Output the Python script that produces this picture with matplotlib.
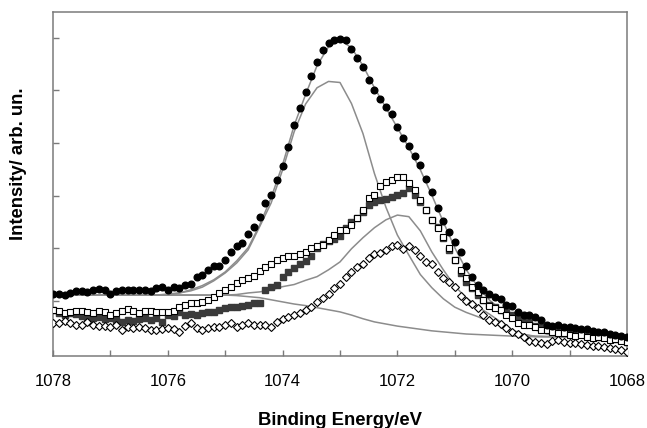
import numpy as np
import matplotlib
matplotlib.use("Agg")
import matplotlib.pyplot as plt
from matplotlib.ticker import MultipleLocator, FuncFormatter

plt.rcParams['font.family'] = ['Liberation Sans', 'DejaVu Sans']

# measured points, 0.1 eV steps from 1078.0 down to 1068.0
energy = np.round(np.arange(1078.0, 1067.95, -0.1), 1)

filled_circles = [
    1.13, 1.13, 1.11, 1.15, 1.19, 1.19, 1.17, 1.21, 1.23, 1.21,
    1.13, 1.19, 1.21, 1.21, 1.21, 1.21, 1.21, 1.19, 1.25, 1.27,
    1.21, 1.27, 1.25, 1.30, 1.32, 1.45, 1.49, 1.59, 1.66, 1.66,
    1.78, 1.93, 2.04, 2.10, 2.27, 2.41, 2.60, 2.86, 3.01, 3.30,
    3.56, 3.93, 4.35, 4.67, 4.97, 5.28, 5.54, 5.77, 5.90, 5.96,
    5.98, 5.96, 5.79, 5.62, 5.45, 5.20, 5.01, 4.84, 4.69, 4.55,
    4.31, 4.10, 3.94, 3.76, 3.58, 3.32, 3.06, 2.76, 2.52, 2.30,
    2.12, 1.92, 1.66, 1.46, 1.30, 1.21, 1.13, 1.07, 1.04, 0.93,
    0.91, 0.79, 0.74, 0.74, 0.70, 0.63, 0.55, 0.53, 0.54, 0.51,
    0.50, 0.49, 0.47, 0.46, 0.43, 0.40, 0.41, 0.37, 0.36, 0.33,
    0.32]

open_squares = [
    0.83, 0.80, 0.77, 0.78, 0.80, 0.80, 0.78, 0.77, 0.80, 0.78,
    0.73, 0.76, 0.80, 0.84, 0.80, 0.76, 0.81, 0.80, 0.78, 0.79,
    0.79, 0.81, 0.88, 0.92, 0.96, 0.96, 0.98, 1.02, 1.08, 1.15,
    1.21, 1.27, 1.34, 1.40, 1.44, 1.48, 1.57, 1.65, 1.70, 1.78,
    1.82, 1.86, 1.86, 1.89, 1.93, 2.01, 2.05, 2.06, 2.16, 2.25,
    2.35, 2.35, 2.44, 2.58, 2.73, 2.96, 3.02, 3.19, 3.26, 3.30,
    3.36, 3.36, 3.24, 3.11, 2.92, 2.73, 2.54, 2.39, 2.21, 2.01,
    1.78, 1.59, 1.44, 1.27, 1.17, 1.02, 0.90, 0.87, 0.83, 0.73,
    0.68, 0.58, 0.54, 0.54, 0.51, 0.45, 0.45, 0.41, 0.39, 0.39,
    0.35, 0.33, 0.35, 0.32, 0.30, 0.32, 0.30, 0.26, 0.28, 0.24,
    0.22]

filled_squares = [
    0.83, 0.77, 0.73, 0.77, 0.75, 0.72, 0.68, 0.68, 0.70, 0.66,
    0.68, 0.64, 0.60, 0.64, 0.62, 0.66, 0.68, 0.64, 0.68, 0.60,
    0.73, 0.72, 0.79, 0.73, 0.75, 0.73, 0.77, 0.79, 0.79, 0.83,
    0.87, 0.89, 0.89, 0.90, 0.92, 0.96, 0.96, 1.21, 1.27, 1.31,
    1.45, 1.55, 1.63, 1.70, 1.76, 1.86, 2.01, 2.08, 2.14, 2.18,
    2.24, 2.39, 2.50, 2.58, 2.69, 2.83, 2.87, 2.92, 2.94, 2.98,
    3.02, 3.05, 3.15, 3.02, 2.87, 2.73, 2.54, 2.41, 2.20, 1.97,
    1.78, 1.53, 1.36, 1.25, 1.11, 1.02, 0.92, 0.89, 0.83, 0.79,
    0.73, 0.68, 0.64, 0.60, 0.52, 0.51, 0.47, 0.45, 0.41, 0.39,
    0.39, 0.35, 0.37, 0.33, 0.33, 0.32, 0.32, 0.30, 0.28, 0.26,
    0.22]

open_diamonds = [
    0.58, 0.58, 0.62, 0.58, 0.54, 0.54, 0.60, 0.54, 0.52, 0.52,
    0.51, 0.54, 0.45, 0.51, 0.49, 0.51, 0.49, 0.45, 0.45, 0.47,
    0.49, 0.47, 0.41, 0.52, 0.58, 0.49, 0.45, 0.49, 0.51, 0.51,
    0.54, 0.58, 0.51, 0.54, 0.58, 0.54, 0.54, 0.54, 0.51, 0.60,
    0.66, 0.69, 0.73, 0.77, 0.83, 0.89, 0.98, 1.06, 1.13, 1.24,
    1.32, 1.45, 1.55, 1.65, 1.70, 1.82, 1.89, 1.91, 1.97, 2.05,
    2.06, 1.99, 2.05, 1.97, 1.86, 1.74, 1.70, 1.55, 1.44, 1.36,
    1.27, 1.09, 1.00, 0.94, 0.87, 0.73, 0.64, 0.60, 0.56, 0.49,
    0.41, 0.37, 0.32, 0.24, 0.22, 0.20, 0.18, 0.24, 0.26, 0.22,
    0.20, 0.20, 0.18, 0.16, 0.14, 0.14, 0.13, 0.11, 0.09, 0.07,
    0.03]

# fit curves, 0.2 eV steps from 1078.0 down to 1068.0
fit_energy = np.round(np.arange(1078.0, 1067.9, -0.2), 1)

background = [
    1.11, 1.11, 1.11, 1.11, 1.11, 1.11, 1.11, 1.11, 1.11, 1.11,
    1.11, 1.11, 1.11, 1.11, 1.11, 1.11, 1.10, 1.08, 1.06, 1.02,
    0.98, 0.94, 0.91, 0.87, 0.83, 0.79, 0.73, 0.66, 0.60, 0.56,
    0.52, 0.49, 0.46, 0.43, 0.41, 0.39, 0.37, 0.36, 0.35, 0.34,
    0.33, 0.32, 0.32, 0.32, 0.32, 0.32, 0.32, 0.32, 0.32, 0.32,
    0.32]

peak_1073 = [
    1.11, 1.11, 1.11, 1.11, 1.11, 1.11, 1.11, 1.11, 1.11, 1.11,
    1.11, 1.15, 1.19, 1.26, 1.38, 1.53, 1.72, 1.97, 2.41, 2.86,
    3.49, 4.21, 4.74, 5.05, 5.17, 5.15, 4.75, 4.18, 3.42, 2.78,
    2.25, 1.87, 1.50, 1.25, 1.04, 0.88, 0.78, 0.70, 0.61, 0.52,
    0.43, 0.36, 0.33, 0.32, 0.32, 0.32, 0.32, 0.32, 0.32, 0.32,
    0.32]

peak_1072 = [
    1.11, 1.11, 1.11, 1.11, 1.11, 1.11, 1.11, 1.11, 1.11, 1.11,
    1.11, 1.11, 1.11, 1.11, 1.11, 1.11, 1.12, 1.15, 1.17, 1.21,
    1.27, 1.31, 1.39, 1.46, 1.59, 1.74, 1.99, 2.20, 2.39, 2.54,
    2.63, 2.60, 2.33, 1.93, 1.59, 1.28, 1.06, 0.89, 0.75, 0.60,
    0.45, 0.36, 0.32, 0.32, 0.32, 0.32, 0.32, 0.32, 0.32, 0.32,
    0.32]

envelope = [
    1.11, 1.11, 1.11, 1.11, 1.11, 1.11, 1.11, 1.11, 1.11, 1.11,
    1.13, 1.15, 1.21, 1.29, 1.40, 1.55, 1.76, 2.01, 2.44, 2.96,
    3.59, 4.33, 4.92, 5.47, 5.83, 5.96, 5.81, 5.47, 5.05, 4.67,
    4.29, 3.91, 3.49, 3.01, 2.50, 2.01, 1.59, 1.27, 1.02, 0.83,
    0.68, 0.54, 0.45, 0.37, 0.33, 0.32, 0.32, 0.32, 0.32, 0.32,
    0.32]

fig = plt.figure(figsize=(6.47, 4.28), dpi=100)
ax = fig.add_axes([0.082, 0.168, 0.887, 0.804])

line_col = '#8c8c8c'
for curve in (background, peak_1073, peak_1072, envelope):
    ax.plot(fit_energy, curve, color=line_col, lw=1.1, zorder=2)

ax.plot(energy, filled_squares, ls='none', marker='s', ms=5.0,
        mfc='#3a3a3a', mec='#3a3a3a', zorder=3)
ax.plot(energy, open_squares, ls='none', marker='s', ms=4.8,
        mfc='white', mec='black', mew=0.8, zorder=4)
ax.plot(energy, open_diamonds, ls='none', marker='D', ms=4.0,
        mfc='white', mec='black', mew=0.8, zorder=5)
ax.plot(energy, filled_circles, ls='none', marker='o', ms=4.8,
        mfc='black', mec='black', zorder=6)

ax.set_xlim(1078, 1068)
ax.set_ylim(-0.05, 6.49)

ax.xaxis.set_major_locator(MultipleLocator(1))
ax.xaxis.set_major_formatter(FuncFormatter(
    lambda v, p: '%d' % round(v) if round(v) % 2 == 0 else ''))
ax.set_yticks([1, 2, 3, 4, 5, 6])
ax.set_yticklabels([])

for s in ax.spines.values():
    s.set_color('#7a7a7a')
    s.set_linewidth(1.1)
ax.tick_params(direction='in', length=4, width=1.0, color='#7a7a7a')
ax.tick_params(axis='x', labelsize=12, pad=13)

ax.set_xlabel('Binding Energy/eV', fontsize=13.3, fontweight='bold')
ax.xaxis.set_label_coords(0.5, -0.162)
ax.set_ylabel('Intensity/ arb. un.', fontsize=13.3, fontweight='bold')
ax.yaxis.set_label_coords(-0.045, 0.558)

fig.savefig('out.png', dpi=100)
